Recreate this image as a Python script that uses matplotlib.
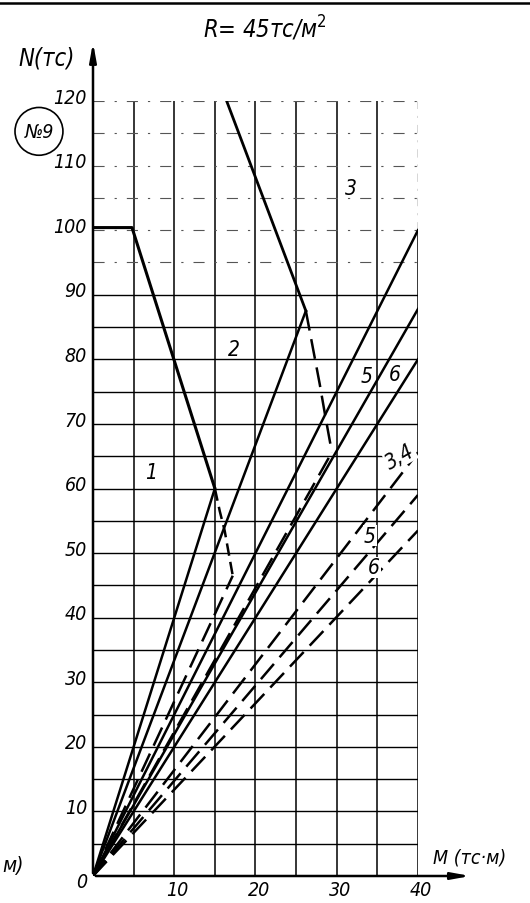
import matplotlib.pyplot as plt
from matplotlib.patches import Ellipse
from matplotlib.lines import Line2D

plt.rcParams['font.family'] = ['DejaVu Sans']
plt.rcParams['font.stretch'] = 'condensed'

# grid / ticks
m_grid = [5, 10, 15, 20, 25, 30, 35, 40]
n_grid = [5, 10, 15, 20, 25, 30, 35, 40, 45, 50, 55, 60, 65, 70, 75, 80, 85, 90]
n_grid_upper = [95, 100, 105, 110, 115, 120]
m_labels = [10, 20, 30, 40]
n_labels = [10, 20, 30, 40, 50, 60, 70, 80, 90, 100, 110, 120]

# curve 1 (solid + dashed tail)
c1_m = [0, 4.8, 15.0]
c1_n = [100.4, 100.4, 60.0]
c1d_m = [15.0, 15.6, 16.2, 17.2]
c1d_n = [60.0, 56.5, 53.5, 46.5]

# curve 3 (solid + dashed tail)
c3_m = [16.45, 26.2]
c3_n = [120.0, 87.5]
c3d_m = [26.2, 27.9, 28.55, 29.4]
c3d_n = [87.5, 76.2, 71.5, 65.6]

# rays from the origin: end points
ray_solid_m = [15.0, 26.2, 40, 40, 40]
ray_solid_n = [60.0, 87.5, 100.0, 87.8, 80.0]
ray_dash_m = [17.2, 29.4, 40, 40, 40]
ray_dash_n = [46.5, 65.6, 65.6, 59.0, 53.5]

# curve labels (last three sit on the dashed lines)
lab_text = ['1', '2', '3', '5', '6', '3,4', '5', '6']
lab_m = [7.2, 17.3, 31.8, 33.7, 37.2, 37.8, 34.1, 34.6]
lab_n = [62.5, 81.6, 106.6, 77.4, 77.7, 65.0, 52.7, 47.8]

fig = plt.figure(figsize=(5.3, 9.04), dpi=100)
ax = fig.add_axes([93 / 530, 27 / 904, 325 / 530, 775 / 904])
ax.set_xlim(0, 40)
ax.set_ylim(0, 120)
ax.axis('off')

# grid
for m in m_grid[:-1]:
    ax.plot([m, m], [0, 120], color='black', lw=1.1)
ax.plot([40, 40], [0, 100], color='black', lw=1.1)
ax.plot([40, 40], [100, 120], color='#333333', lw=1.0, linestyle=(0, (6, 5, 1.5, 5)))
for n in n_grid:
    ax.plot([0, 40], [n, n], color='black', lw=1.0)
for n in n_grid_upper:
    ax.plot([0, 40], [n, n], color='#555555', lw=0.8, linestyle=(0, (10, 9, 2, 9)))

# axes with arrows
ax.annotate('', xy=(0, 129.5), xytext=(0, 0), annotation_clip=False,
            arrowprops=dict(arrowstyle='-|>,head_length=1.1,head_width=0.2', lw=1.8, color='black'))
ax.annotate('', xy=(46.8, 0), xytext=(0, 0), annotation_clip=False,
            arrowprops=dict(arrowstyle='-|>,head_length=1.1,head_width=0.2', lw=1.8, color='black'))

dash = (0, (8, 3.5))

# curves
ax.plot(c1_m, c1_n, color='black', lw=2.2, solid_capstyle='round')
ax.plot(c1d_m, c1d_n, color='black', lw=1.8, linestyle=(0, (5, 2.5)))
ax.plot(c3_m, c3_n, color='black', lw=2.0)
ax.plot(c3d_m, c3d_n, color='black', lw=1.8, linestyle=dash)

for m, n in zip(ray_solid_m, ray_solid_n):
    ax.plot([0, m], [0, n], color='black', lw=1.8)
for m, n in zip(ray_dash_m, ray_dash_n):
    ax.plot([0, m], [0, n], color='black', lw=1.8, linestyle=dash)

# labels
for i, (t, m, n) in enumerate(zip(lab_text, lab_m, lab_n)):
    box = dict(facecolor='white', edgecolor='none', pad=0.5) if i >= 5 else None
    ax.text(m, n, t, fontsize=15, style='italic', ha='center', va='center',
            rotation=30 if t == '3,4' else 0, bbox=box, zorder=5)

for v in n_labels:
    ax.text(-0.75, v + 0.6, str(v), fontsize=14, style='italic', ha='right', va='center')
ax.text(-0.75, -0.8, '0', fontsize=14, style='italic', ha='right', va='center')
for v in m_labels:
    ax.text(v + 0.4, -2.1, str(v), fontsize=14, style='italic', ha='center', va='center')

ax.text(-5.7, 126.8, 'N(тс)', fontsize=17, style='italic', ha='center', va='center')
ax.text(21.2, 131.4, 'R= 45тс/м$^2$', fontsize=17, style='italic', ha='center', va='center')
ax.text(46.3, 2.9, 'M (тс·м)', fontsize=14, style='italic', ha='center', va='center')

ax.add_patch(Ellipse((-6.65, 115.3), 5.9, 7.4, fill=False, color='black', lw=1.2, clip_on=False))
ax.text(-6.65, 115.3, '№9', fontsize=14, style='italic', ha='center', va='center')

# remnant of neighbouring page on the left and top border line
fig.text(2 / 530, 1 - 866 / 904, 'м)', fontsize=15, style='italic', ha='left', va='center')
fig.add_artist(Line2D([0, 1], [1 - 4 / 904, 1 - 4 / 904], color='black', lw=1.8))

fig.savefig('out.png', dpi=100)
